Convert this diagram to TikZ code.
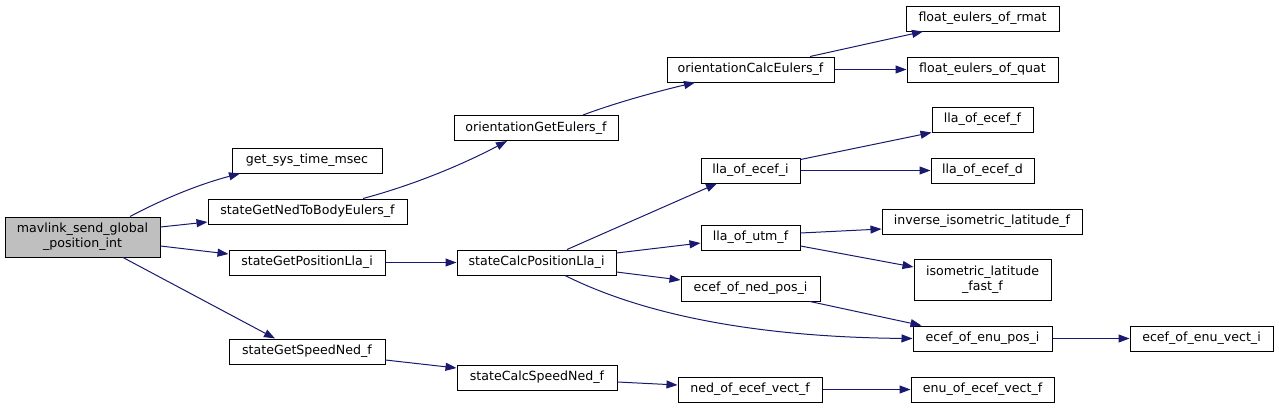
\documentclass[tikz,border=0pt]{standalone}
\usepackage{fontspec}
\setmainfont{DejaVu Sans}
\usetikzlibrary{arrows.meta}
\definecolor{edgeblue}{HTML}{191970}
\definecolor{rootgray}{HTML}{BFBFBF}
\begin{document}
\begin{tikzpicture}[x=1pt,y=-1pt,
  fbox/.style={draw=black, line width=1pt, fill=white, inner sep=0pt, align=center,
    font=\fontsize{12.6}{15}\selectfont},
  call/.style={draw=edgeblue, line width=1pt, -{Triangle[length=11pt,width=8pt]}, fill=none}]
\useasboundingbox (0,0) rectangle (1279,408);
% nodes
\node[fbox, fill=rootgray, minimum width=155pt, minimum height=40pt] (mav) at (82.5,237) {mavlink\_send\_global\\\_position\_int};
\node[fbox, minimum width=150pt, minimum height=25pt] (gst) at (307,160.5) {get\_sys\_time\_msec};
\node[fbox, minimum width=199pt, minimum height=25pt] (sgn) at (307.5,211.5) {stateGetNedToBodyEulers\_f};
\node[fbox, minimum width=156pt, minimum height=25pt] (sgp) at (307,262.5) {stateGetPositionLla\_i};
\node[fbox, minimum width=156pt, minimum height=25pt] (sgs) at (307,351.5) {stateGetSpeedNed\_f};
\node[fbox, minimum width=164pt, minimum height=25pt] (oge) at (536,128) {orientationGetEulers\_f};
\node[fbox, minimum width=159pt, minimum height=25pt] (scp) at (536.5,262.5) {stateCalcPositionLla\_i};
\node[fbox, minimum width=160pt, minimum height=25pt] (scs) at (537,377.5) {stateCalcSpeedNed\_f};
\node[fbox, minimum width=167pt, minimum height=25pt] (oce) at (750.5,69.5) {orientationCalcEulers\_f};
\node[fbox, minimum width=99pt, minimum height=25pt] (lei) at (750.5,170.5) {lla\_of\_ecef\_i};
\node[fbox, minimum width=99pt, minimum height=25pt] (lut) at (750.5,237.5) {lla\_of\_utm\_f};
\node[fbox, minimum width=139pt, minimum height=25pt] (ened) at (750.5,288.5) {ecef\_of\_ned\_pos\_i};
\node[fbox, minimum width=144pt, minimum height=25pt] (nev) at (750,389.5) {ned\_of\_ecef\_vect\_f};
\node[fbox, minimum width=153pt, minimum height=25pt] (fer) at (982.5,18.5) {float\_eulers\_of\_rmat};
\node[fbox, minimum width=151pt, minimum height=25pt] (feq) at (982.5,69.5) {float\_eulers\_of\_quat};
\node[fbox, minimum width=101pt, minimum height=25pt] (lef) at (982.5,119.5) {lla\_of\_ecef\_f};
\node[fbox, minimum width=103pt, minimum height=25pt] (led) at (982.5,170.5) {lla\_of\_ecef\_d};
\node[fbox, minimum width=200pt, minimum height=25pt] (iil) at (982,221.5) {inverse\_isometric\_latitude\_f};
\node[fbox, minimum width=137pt, minimum height=41pt] (ilf) at (982.5,279.5) {isometric\_latitude\\\_fast\_f};
\node[fbox, minimum width=139pt, minimum height=25pt] (eenp) at (982.5,338.5) {ecef\_of\_enu\_pos\_i};
\node[fbox, minimum width=143pt, minimum height=25pt] (eef) at (982.5,389.5) {enu\_of\_ecef\_vect\_f};
\node[fbox, minimum width=143pt, minimum height=25pt] (eev) at (1201.5,338.5) {ecef\_of\_enu\_vect\_i};
% edges
\draw[call] ([xshift=47.5pt]mav.north) .. controls (165,198) and (200,184) .. ([xshift=-67pt]gst.south);
\draw[call] ([yshift=10pt]mav.east) -- ([yshift=-10.5pt]sgn.west);
\draw[call] ([yshift=-9pt]mav.east) -- ([yshift=8.5pt]sgp.west);
\draw[call] ([xshift=40.5pt]mav.south) -- ([xshift=-32pt]sgs.north);
\draw[call] ([xshift=55.5pt]sgn.north) .. controls (410,186) and (460,166) .. ([xshift=-29pt]oge.south);
\draw[call] ([xshift=47pt]oge.north) .. controls (615,103) and (655,92) .. ([xshift=-55.5pt]oce.south);
\draw[call] ([xshift=59.5pt]oce.north) -- ([xshift=-59.5pt]fer.south);
\draw[call] (oce.east) -- (feq.west);
\draw[call] (sgp.east) -- (scp.west);
\draw[call] ([xshift=30.5pt]scp.north) -- ([xshift=-33.5pt]lei.south);
\draw[call] ([yshift=9.5pt]scp.east) -- ([yshift=-5.5pt]lut.west);
\draw[call] ([yshift=-9.5pt]scp.east) -- ([yshift=8.5pt]ened.west);
\draw[call] ([xshift=28.5pt]scp.south) .. controls (640,313) and (750,337) .. (eenp.west);
\draw[call] ([yshift=-2pt]lei.north east) -- (lef.south west);
\draw[call] (lei.east) -- (led.west);
\draw[call] ([yshift=4.5pt]lut.east) -- ([yshift=-7.5pt]iil.west);
\draw[call] ([yshift=-8.5pt]lut.east) -- ([yshift=12.5pt]ilf.west);
\draw[call] ([xshift=59.5pt]ened.south) -- ([xshift=9pt]eenp.north west);
\draw[call] (eenp.east) -- (eev.west);
\draw[call] ([yshift=-8.5pt]sgs.east) -- ([yshift=9.5pt]scs.west);
\draw[call] ([yshift=-4.5pt]scs.east) -- ([yshift=4.5pt]nev.west);
\draw[call] (nev.east) -- (eef.west);
\end{tikzpicture}
\end{document}
